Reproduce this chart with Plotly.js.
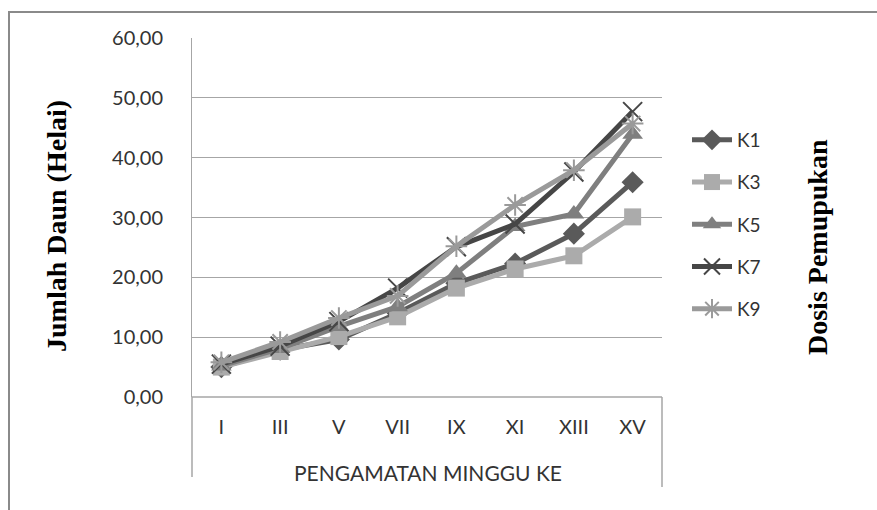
<!DOCTYPE html>
<html>
<head>
<meta charset="utf-8">
<script src="https://cdn.plot.ly/plotly-3.0.1.min.js"></script>
<style>html,body{margin:0;padding:0;background:#fff;}#chart{width:877px;height:510px;}</style>
</head>
<body>
<div id="chart"></div>
<script>
const weeks = ["I","III","V","VII","IX","XI","XIII","XV"];
const seriesNames = ["K1","K3","K5","K7","K9"];
const k1 = [5.0, 7.9, 9.6, 14.0, 19.0, 22.3, 27.3, 35.9];
const k3 = [5.0, 7.6, 10.1, 13.4, 18.2, 21.4, 23.6, 30.1];
const k5 = [5.2, 8.1, 11.8, 15.1, 20.7, 28.5, 30.6, 43.9];
const k7 = [5.5, 8.5, 12.6, 18.2, 25.1, 28.9, 37.6, 47.7];
const k9 = [5.8, 9.2, 13.2, 16.9, 25.2, 32.1, 37.9, 45.7];
const yTitle = "Jumlah Daun (Helai)";
const xTitle = "PENGAMATAN MINGGU KE";
const legendTitle = "Dosis Pemupukan";

const values = [k1, k3, k5, k7, k9];
const colors = ["#5a5a5a", "#ababab", "#7f7f7f", "#464646", "#9a9a9a"];
const symbols = ["diamond", "square", "triangle-up", "x-thin-open", "asterisk-open"];
const msizes = [17, 17, 18, 19, 18];

const traces = seriesNames.map((n, i) => ({
  type: "scatter",
  mode: "lines+markers",
  name: n,
  x: weeks,
  y: values[i],
  legendgroup: n,
  line: {color: colors[i], width: 5},
  marker: {symbol: symbols[i], size: msizes[i], color: colors[i],
           line: {color: colors[i], width: (i >= 3 ? 2 : 0)}}
}));

const px = v => (v - 192) / 470;
const py = v => (397 - v) / 359;
const sansFont = "Lato, 'Open Sans', sans-serif";
const serifFont = "'Liberation Serif', 'Times New Roman', serif";

const layout = {
  width: 877, height: 510,
  margin: {l: 192, r: 215, t: 38, b: 113},
  paper_bgcolor: "#fff", plot_bgcolor: "#fff",
  separators: ",.",
  showlegend: true,
  font: {family: sansFont, color: "#333"},
  xaxis: {
    type: "category", range: [-0.5, 7.5],
    showgrid: false, zeroline: false, showline: false,
    ticks: "", ticklabelstandoff: 16,
    tickfont: {size: 20, color: "#333"},
    title: {text: ""}
  },
  yaxis: {
    range: [0, 60], dtick: 10, tickformat: ".2f",
    showgrid: true, gridcolor: "#a6a6a6", gridwidth: 1,
    zeroline: false, showline: true, linecolor: "#a6a6a6", linewidth: 1,
    ticks: "", ticklabelstandoff: 24,
    tickfont: {size: 20, color: "#333"},
    title: {text: ""}
  },
  legend: {
    x: px(687), xanchor: "left", xref: "paper",
    y: py(121), yanchor: "top",
    font: {size: 19, color: "#333"},
    tracegroupgap: 14.5,
    itemwidth: 40,
    bgcolor: "rgba(0,0,0,0)"
  },
  shapes: [
    {type: "line", xref: "paper", yref: "paper", x0: 0, x1: 1, y0: 0, y1: 0, line: {color: "#a6a6a6", width: 1.5}},
    {type: "line", xref: "paper", yref: "paper", x0: 0, x1: 0, y0: 0, y1: py(477), line: {color: "#a6a6a6", width: 1.5}},
    {type: "line", xref: "paper", yref: "paper", x0: 1, x1: 1, y0: 0, y1: py(487), line: {color: "#a6a6a6", width: 1.5}},
    {type: "rect", xref: "paper", yref: "paper", x0: px(9), x1: px(900), y0: py(12), y1: py(540), line: {color: "#8a8a8a", width: 2}}
  ],
  annotations: [
    {text: xTitle, xref: "paper", yref: "paper", x: px(428), y: py(472), xanchor: "center", yanchor: "middle",
     showarrow: false, font: {family: sansFont, size: 21, color: "#333"}},
    {text: yTitle, xref: "paper", yref: "paper", x: px(56), y: py(226), xanchor: "center", yanchor: "middle",
     textangle: -90, showarrow: false, font: {family: serifFont, size: 28, color: "#000", weight: "bold"}},
    {text: legendTitle, xref: "paper", yref: "paper", x: px(817), y: py(247), xanchor: "center", yanchor: "middle",
     textangle: -90, showarrow: false, font: {family: serifFont, size: 28, color: "#000", weight: "bold"}}
  ]
};

Plotly.newPlot("chart", traces, layout, {displayModeBar: false, responsive: false});
</script>
</body>
</html>
